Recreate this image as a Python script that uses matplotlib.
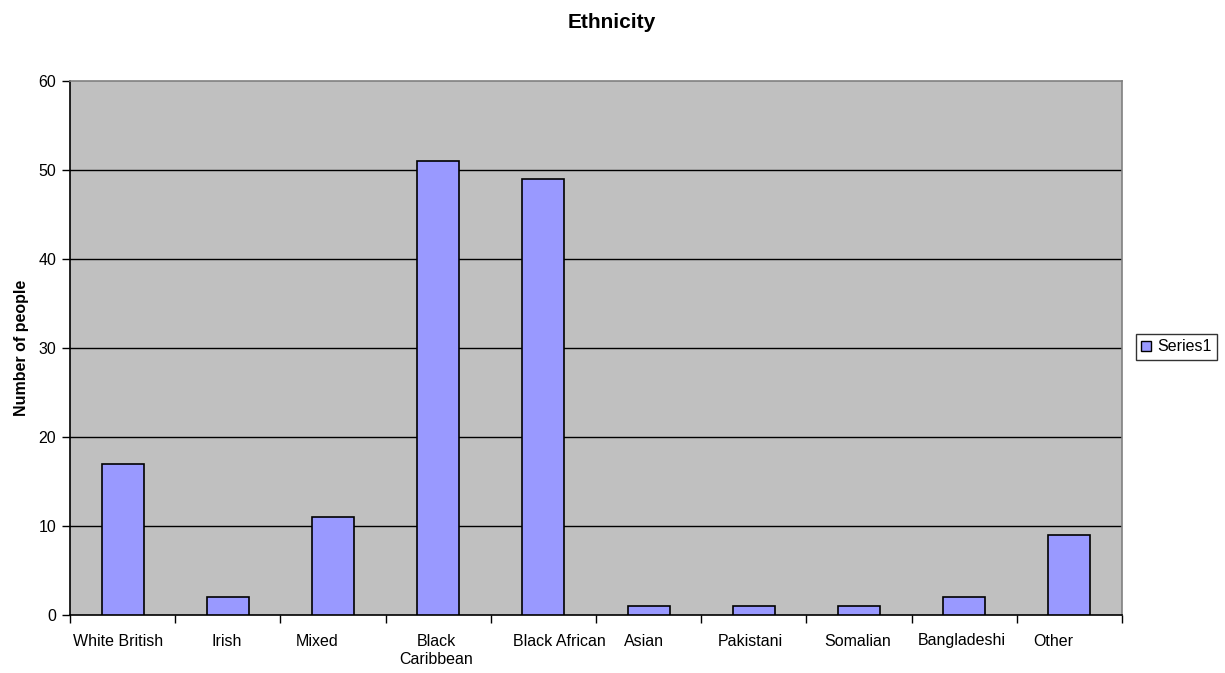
import matplotlib
matplotlib.use("Agg")
import matplotlib.pyplot as plt
from matplotlib.patches import Patch
from matplotlib.transforms import offset_copy

categories = ["White British", "Irish", "Mixed", "Black\nCaribbean", "Black African",
              "Asian", "Pakistani", "Somalian", "Bangladeshi", "Other"]
values = [17, 2, 11, 51, 49, 1, 1, 1, 2, 9]
yticks = [0, 10, 20, 30, 40, 50, 60]

# horizontal nudges (pixels) for the category labels
label_nudge_px = [-4.5, -1, -16, -2, 15.5, -5, -3, -1, -2.5, -16.5]

plt.rcParams["font.family"] = ["Liberation Sans", "DejaVu Sans"]

fig = plt.figure(figsize=(12.25, 6.73), dpi=100)
ax = fig.add_axes([70 / 1225, 1 - 615 / 673, 1052 / 1225, 534 / 673])
ax.set_facecolor("#C0C0C0")

x = list(range(len(categories)))
ax.bar(x, values, width=0.4, color="#9999FF", edgecolor="black", linewidth=1.2, zorder=3)

ax.set_xlim(-0.5, len(categories) - 0.5)
ax.set_ylim(0, 60)
ax.set_yticks(yticks)
ax.set_yticklabels([str(v) for v in yticks], fontsize=11.5)
for v in yticks[1:-1]:
    ax.axhline(v, color="black", linewidth=1, zorder=1)

# boundary ticks between categories, labels placed under each category
ax.set_xticks([i - 0.5 for i in range(len(categories) + 1)])
ax.set_xticklabels([])
ax.tick_params(axis="x", which="major", length=6, width=1, direction="out")
ax.tick_params(axis="y", length=6, width=1, direction="out", pad=4)

base = ax.get_xaxis_transform()
for xi, name, dx in zip(x, categories, label_nudge_px):
    tr = offset_copy(base, fig=fig, x=dx, y=-18.5, units="dots")
    ax.text(xi, 0, name, transform=tr, ha="center", va="top",
            fontsize=11.5, linespacing=1.25, multialignment="center")

for side in ["top", "right"]:
    ax.spines[side].set_color("#808080")
    ax.spines[side].set_linewidth(1.2)
for side in ["left", "bottom"]:
    ax.spines[side].set_color("black")
    ax.spines[side].set_linewidth(1.2)

ax.set_ylabel("Number of people", fontsize=11.5, fontweight="bold", labelpad=7)
fig.suptitle("Ethnicity", x=612 / 1225, y=1 - 22 / 673, va="center",
             fontsize=15, fontweight="bold")

handle = Patch(facecolor="#9999FF", edgecolor="black", linewidth=1)
leg = fig.legend([handle], ["Series1"], loc="center",
                 bbox_to_anchor=(1176.5 / 1225, 1 - 347 / 673), fontsize=11.5,
                 frameon=True, fancybox=False, edgecolor="black",
                 handlelength=0.6, handleheight=0.6, handletextpad=0.4,
                 borderpad=0.35, borderaxespad=0)
leg.get_frame().set_linewidth(1)

fig.savefig("out.png", dpi=100, facecolor="white")
